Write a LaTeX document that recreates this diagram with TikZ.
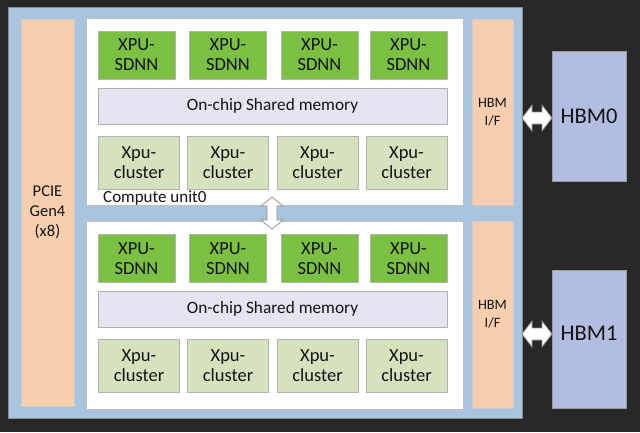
\documentclass[tikz,border=0pt]{standalone}
\usepackage{fontspec}
\setmainfont{Carlito}
\usetikzlibrary{calc}
\definecolor{bgdark}{HTML}{282828}
\definecolor{chipblue}{HTML}{A8C4DE}
\definecolor{peach}{HTML}{F8CFAE}
\definecolor{sdnngreen}{HTML}{7BC043}
\definecolor{lav}{HTML}{E6E4F1}
\definecolor{paleg}{HTML}{D6E2BE}
\definecolor{hbmblue}{HTML}{B3BDE1}
\definecolor{txt}{HTML}{141414}
\begin{document}
\begin{tikzpicture}[x=1pt,y=-1pt,
  every node/.style={inner sep=0pt, align=center, text=txt},
  base/.style={rectangle, draw=black!30, line width=0.6pt},
  sdnn/.style={base, fill=sdnngreen, minimum width=77pt, minimum height=48pt, font=\fontsize{18.5}{20}\selectfont},
  clus/.style={base, fill=paleg, minimum width=81pt, minimum height=53pt, font=\fontsize{18.5}{20}\selectfont},
  memb/.style={base, fill=lav, minimum width=349pt, minimum height=36pt, font=\fontsize{17.3}{20}\selectfont},
  unit/.style={rectangle, draw=black!25, line width=0.6pt, fill=white, minimum width=377pt, minimum height=187pt},
  ifbox/.style={base, draw=black!20, fill=peach, minimum width=41pt, minimum height=186pt, font=\fontsize{14.3}{18}\selectfont},
  hbm/.style={base, draw=black!40, fill=hbmblue, minimum width=74pt, font=\fontsize{22.5}{26}\selectfont},
  arr/.style={fill=white, draw=black!45, line width=0.7pt, line join=miter}
]
\fill[bgdark] (0,0) rectangle (640,432);
\useasboundingbox (0,0) rectangle (640,432);

% chip
\node[rectangle, fill=chipblue, draw=black!45, line width=0.6pt, minimum width=514pt, minimum height=411pt] (chip) at (265,212.5) {};
\node[base, draw=black!20, fill=peach, minimum width=53pt, minimum height=387pt, font=\fontsize{16.5}{20}\selectfont] (pcie) at (47.5,212.5) {PCIE\\Gen4\\(x8)};

% compute units
\node[unit] (cu0) at (274.5,111.5) {};
\node[unit, minimum height=188pt] (cu1) at (274.5,315) {};

% HBM interfaces
\node[ifbox] (if0) at (492.5,112) {HBM\\I/F};
\node[ifbox, minimum height=187pt] (if1) at (492.5,314.5) {HBM\\I/F};

% HBM stacks
\node[hbm, minimum height=130pt] (hbm0) at (589,116) {HBM0};
\node[hbm, minimum height=138pt, label={[name=hbm1t, yshift=6pt, font=\fontsize{22.5}{26}\selectfont, text=txt]center:HBM1}] (hbm1) at (589,339) {};

% unit 0 contents
\node[sdnn] (s00) at (136.5,55) {XPU-\\SDNN};
\node[sdnn] (s01) at (228,55) {XPU-\\SDNN};
\node[sdnn] (s02) at (319.5,55) {XPU-\\SDNN};
\node[sdnn] (s03) at (408.5,55) {XPU-\\SDNN};
\node[memb] (m0) at (272.5,106) {On-chip Shared memory};
\node[clus] (c00) at (139,162.5) {Xpu-\\cluster};
\node[clus] (c01) at (228,162.5) {Xpu-\\cluster};
\node[clus] (c02) at (317.5,162.5) {Xpu-\\cluster};
\node[clus] (c03) at (406.5,162.5) {Xpu-\\cluster};
\node[anchor=west, font=\fontsize{17}{20}\selectfont] (cu0lab) at (103,198.5) {Compute unit0};

% unit 1 contents
\node[sdnn] (s10) at (136.5,258.5) {XPU-\\SDNN};
\node[sdnn] (s11) at (228,258.5) {XPU-\\SDNN};
\node[sdnn] (s12) at (319.5,258.5) {XPU-\\SDNN};
\node[sdnn] (s13) at (408.5,258.5) {XPU-\\SDNN};
\node[memb] (m1) at (272.5,309) {On-chip Shared memory};
\node[clus] (c10) at (139,366) {Xpu-\\cluster};
\node[clus] (c11) at (228,366) {Xpu-\\cluster};
\node[clus] (c12) at (317.5,366) {Xpu-\\cluster};
\node[clus] (c13) at (406.5,366) {Xpu-\\cluster};

% arrows
\coordinate (va) at ($(cu0.south)!0.5!(cu1.north)+(-2.5,0)$);
\draw[arr] (va) ++(0,-16) -- ++(11,9) -- ++(-6,0) -- ++(0,14) -- ++(6,0) -- ++(-11,9)
  -- ++(-11,-9) -- ++(6,0) -- ++(0,-14) -- ++(-6,0) -- cycle;

\coordinate (ha0) at (537,118);
\coordinate (ha1) at (537,334);
\foreach \c in {ha0,ha1}{
\draw[arr] (\c) ++(-15,0) -- ++(10,-13) -- ++(0,7) -- ++(10,0) -- ++(0,-7) -- ++(10,13)
  -- ++(-10,13) -- ++(0,-7) -- ++(-10,0) -- ++(0,7) -- cycle;
}
\end{tikzpicture}
\end{document}
